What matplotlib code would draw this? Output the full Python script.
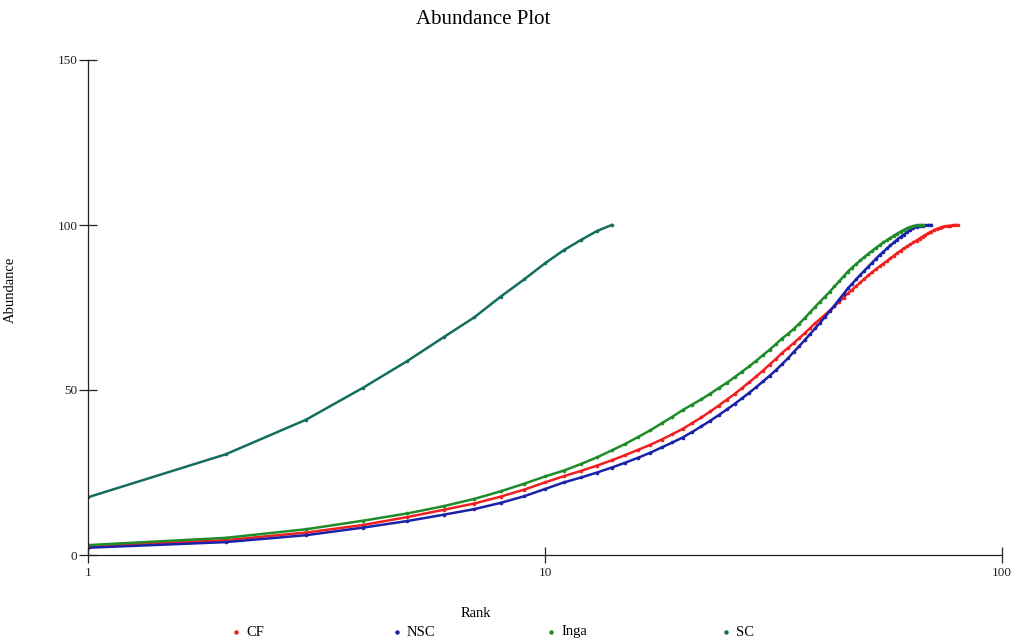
import matplotlib
matplotlib.use("Agg")
import matplotlib.pyplot as plt
from matplotlib.lines import Line2D
from matplotlib.ticker import FixedLocator, NullLocator, FixedFormatter

plt.rcParams['font.family'] = ['Liberation Serif', 'DejaVu Serif']

# ---- data (cumulative abundance, %) ----
cf_values = [2.6, 4.5, 6.8, 9.1, 11.5, 13.7, 15.6, 17.7, 19.8, 22.0,
             23.9, 25.5, 27.1, 28.7, 30.3, 31.9, 33.4, 35.0, 36.6, 38.2,
             40.0, 41.7, 43.5, 45.3, 47.1, 48.8, 50.6, 52.4, 54.1, 55.9,
             57.7, 59.4, 61.2, 62.7, 64.2, 65.7, 67.2, 68.7, 70.2, 71.5,
             72.8, 74.1, 75.4, 76.7, 78.0, 79.3, 80.4, 81.5, 82.6, 83.7,
             84.7, 85.7, 86.6, 87.5, 88.3, 89.1, 89.9, 90.7, 91.5, 92.2,
             92.9, 93.5, 94.1, 94.7, 95.3, 95.9, 96.5, 97.0, 97.5, 98.0,
             98.4, 98.8, 99.1, 99.4, 99.6, 99.7, 99.8, 99.9, 100.0, 100.0]

nsc_values = [2.2, 3.9, 6.0, 8.3, 10.3, 12.2, 13.9, 15.8, 17.8, 20.0,
              22.0, 23.5, 25.0, 26.5, 28.0, 29.5, 31.0, 32.6, 34.1, 35.6,
              37.3, 39.0, 40.7, 42.4, 44.1, 45.8, 47.5, 49.2, 50.9, 52.6,
              54.3, 56.0, 57.8, 59.6, 61.5, 63.3, 65.1, 66.9, 68.7, 70.4,
              72.2, 73.9, 75.6, 77.4, 79.1, 80.8, 82.2, 83.6, 84.9, 86.2,
              87.4, 88.6, 89.8, 90.9, 91.9, 92.9, 93.8, 94.7, 95.6, 96.4,
              97.1, 97.8, 98.5, 99.1, 99.5, 99.7, 99.8, 99.9, 100.0, 100.0]

inga_values = [3.0, 5.2, 7.8, 10.4, 12.6, 14.8, 17.0, 19.3, 21.6, 23.8,
               25.6, 27.6, 29.6, 31.7, 33.7, 35.8, 37.8, 39.9, 41.9, 43.9,
               45.6, 47.2, 48.9, 50.6, 52.2, 53.9, 55.6, 57.2, 58.9, 60.6,
               62.2, 63.9, 65.6, 67.0, 68.5, 70.1, 71.8, 73.5, 75.2, 76.8,
               78.3, 79.8, 81.4, 82.9, 84.4, 85.9, 87.1, 88.2, 89.3, 90.3,
               91.3, 92.2, 93.1, 93.9, 94.7, 95.4, 96.1, 96.8, 97.4, 98.0,
               98.5, 99.0, 99.4, 99.7, 99.9, 100.0, 100.0]

sc_values = [17.5, 30.5, 41.0, 50.7, 58.8, 66.0, 72.0, 78.3, 83.5, 88.4,
             92.4, 95.5, 98.2, 100.0]

series_names = ['CF', 'NSC', 'Inga', 'SC']
series_values = [cf_values, nsc_values, inga_values, sc_values]
series_colors = ['#f02020', '#1a22a8', '#1e8c28', '#146e60']

x_ticks = [1, 10, 100]
x_tick_labels = ['1', '10', '100']
y_ticks = [0, 50, 100, 150]
y_tick_labels = ['0', '50', '100', '150']

# ---- figure ----
fig = plt.figure(figsize=(10.18, 6.42), dpi=100)
ax = fig.add_axes([88 / 1018, 1 - 555 / 642, (1002 - 88) / 1018, (555 - 60) / 642])

# draw in order so SC/Inga/CF/NSC overlay similar to reference
draw_order = [1, 0, 2, 3]
for i in draw_order:
    vals = series_values[i]
    ranks = list(range(1, len(vals) + 1))
    ax.plot(ranks, vals, color=series_colors[i], lw=1.8, marker='o',
            markersize=2.6, markeredgewidth=0, zorder=3 + i)

ax.set_xscale('log')
ax.set_xlim(1, 100)
ax.set_ylim(0, 150)
ax.xaxis.set_major_locator(FixedLocator(x_ticks))
ax.xaxis.set_major_formatter(FixedFormatter(x_tick_labels))
ax.xaxis.set_minor_locator(NullLocator())
ax.yaxis.set_major_locator(FixedLocator(y_ticks))
ax.yaxis.set_major_formatter(FixedFormatter(y_tick_labels))

for s in ['top', 'right']:
    ax.spines[s].set_visible(False)
for s in ['left', 'bottom']:
    ax.spines[s].set_linewidth(0.9)
    ax.spines[s].set_color('#222222')
ax.spines['left'].set_zorder(10)
ax.spines['bottom'].set_zorder(10)

ax.tick_params(axis='x', direction='inout', length=12, width=0.9, pad=3,
               labelsize=9.5, colors='#222222')
ax.tick_params(axis='y', direction='inout', length=13, width=0.9, pad=1,
               labelsize=9.5, colors='#222222')

ax.set_xlabel('Rank', fontsize=10.5, labelpad=26)
ax.xaxis.set_label_coords((476 - 88) / (1002 - 88), -(607 - 555) / (555 - 60))
ax.set_ylabel('Abundance', fontsize=10.5)
ax.yaxis.set_label_coords(-(88 - 17) / (1002 - 88), 0.535)

fig.text(483 / 1018, 1 - 20 / 642, 'Abundance Plot', ha='center', va='center',
         fontsize=15)

# legend (markers + labels along the bottom)
legend_marker_x = [236, 397, 551, 726]
legend_y = 1 - 632 / 642
for name, col, mx in zip(series_names, series_colors, legend_marker_x):
    fig.add_artist(Line2D([mx / 1018], [legend_y], transform=fig.transFigure,
                          marker='o', markersize=3.2, color=col, ls='none',
                          markeredgewidth=0))
    fig.text((mx + 10) / 1018, legend_y, name, ha='left', va='center',
             fontsize=10.5)

fig.savefig('out.png', dpi=100)
